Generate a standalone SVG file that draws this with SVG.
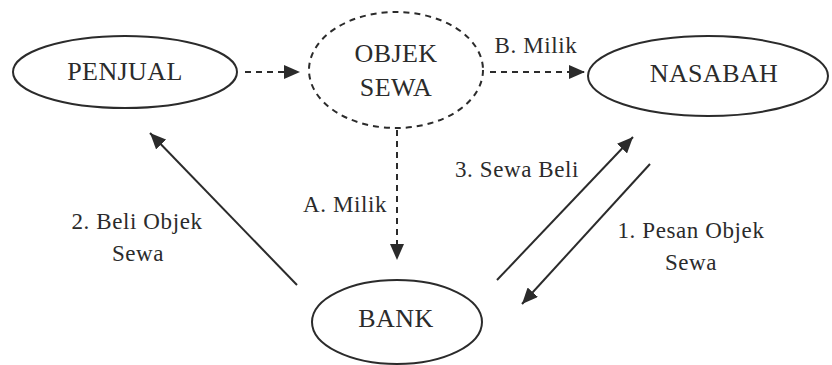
<svg xmlns="http://www.w3.org/2000/svg" width="832" height="365" viewBox="0 0 832 365">
  <style>
    .node { fill: none; stroke: #2b2b2b; stroke-width: 2; }
    .dashed { stroke-dasharray: 6 5; }
    text { font-family: 'Liberation Serif', 'Times New Roman', Times, serif; fill: #2b2b2b; text-anchor: middle; }
    .ntext { font-size: 26px; letter-spacing: 0.4px; }
    .ltext { font-size: 23px; letter-spacing: 0.6px; }
    .edge { fill: none; stroke: #2b2b2b; stroke-width: 2; }
    .edash { stroke-dasharray: 6 5; }
  </style>
  <defs>
    <marker id="arrow" markerUnits="userSpaceOnUse" markerWidth="18" markerHeight="14" refX="16" refY="7" orient="auto">
      <path d="M0,0 L16,7 L0,14 Z" fill="#2b2b2b"/>
    </marker>
  </defs>
  <rect width="832" height="365" fill="#ffffff"/>

  <g id="penjual">
    <ellipse class="node" cx="125" cy="72" rx="112" ry="36"/>
    <text class="ntext" x="125" y="80">PENJUAL</text>
  </g>
  <g id="objek-sewa">
    <ellipse class="node dashed" cx="396" cy="70" rx="87" ry="58"/>
    <text class="ntext" x="396" y="62">OBJEK</text>
    <text class="ntext" x="396" y="96">SEWA</text>
  </g>
  <g id="nasabah">
    <ellipse class="node" cx="708" cy="76" rx="120" ry="40"/>
    <text class="ntext" x="714" y="82">NASABAH</text>
  </g>
  <g id="bank">
    <ellipse class="node" cx="397" cy="322" rx="85" ry="42"/>
    <text class="ntext" x="396" y="327">BANK</text>
  </g>

  <g id="connectors">
    <line class="edge edash" x1="245" y1="72" x2="300" y2="72" marker-end="url(#arrow)"/>
    <line class="edge edash" x1="490" y1="72" x2="585" y2="72" marker-end="url(#arrow)"/>
    <line class="edge edash" x1="397" y1="130" x2="397" y2="260" marker-end="url(#arrow)"/>
    <line class="edge" x1="297" y1="285" x2="150" y2="133" marker-end="url(#arrow)"/>
    <line class="edge" x1="497" y1="280" x2="633" y2="137" marker-end="url(#arrow)"/>
    <line class="edge" x1="650" y1="164" x2="522" y2="304" marker-end="url(#arrow)"/>
  </g>

  <g id="labels">
    <text class="ltext" x="536" y="53">B. Milik</text>
    <text class="ltext" x="387" y="212" style="text-anchor:end">A. Milik</text>
    <text class="ltext" x="517" y="177">3. Sewa Beli</text>
    <text class="ltext" x="691" y="238">1. Pesan Objek</text>
    <text class="ltext" x="691" y="270">Sewa</text>
    <text class="ltext" x="137" y="229">2. Beli Objek</text>
    <text class="ltext" x="138" y="261">Sewa</text>
  </g>
</svg>
